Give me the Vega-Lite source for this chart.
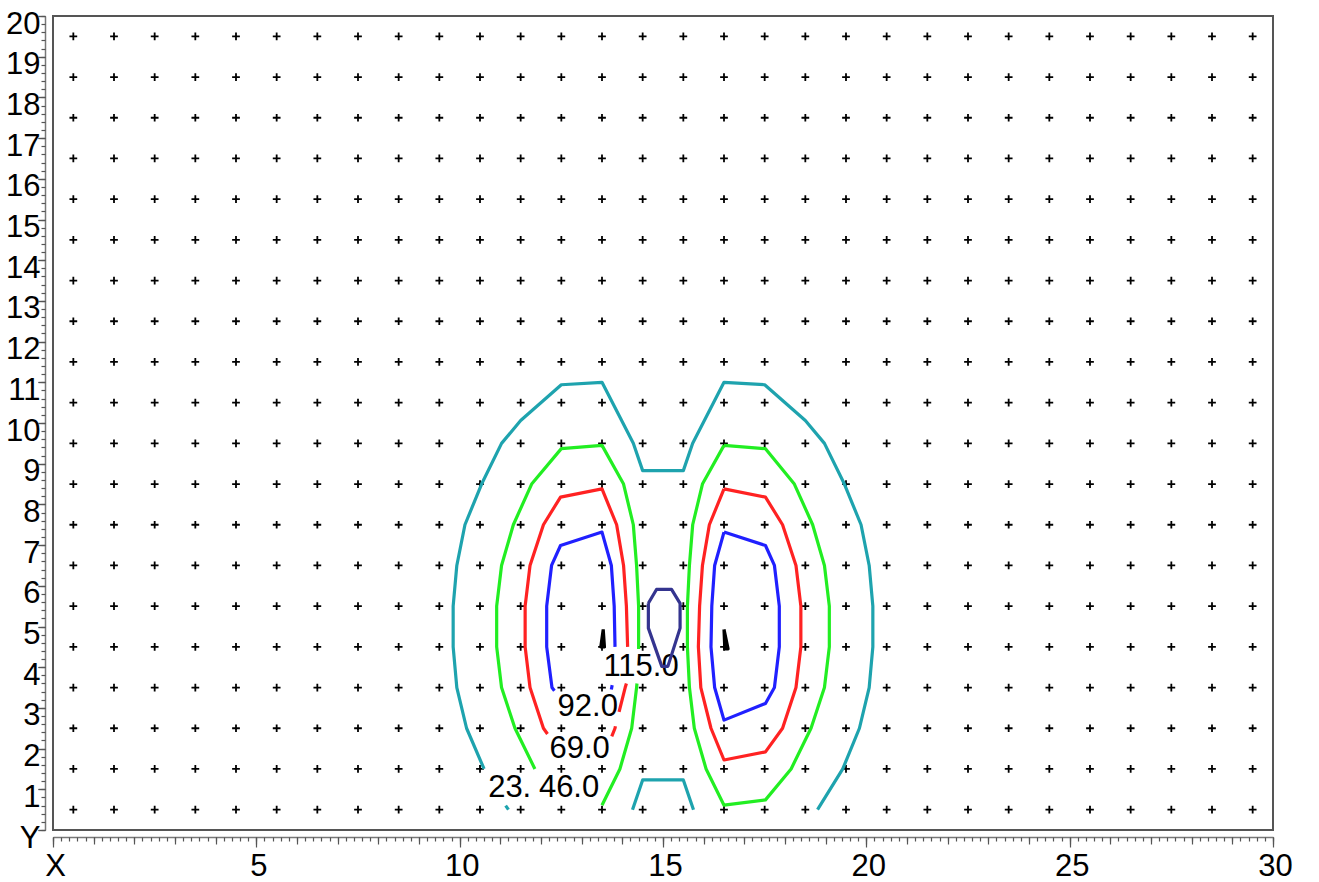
{
  "$schema": "https://vega.github.io/schema/vega-lite/v6.json",
  "width": 1220,
  "height": 814,
  "autosize": {"type": "none"},
  "padding": {"left": 53, "top": 16, "right": 46, "bottom": 52},
  "background": "white",
  "config": {
    "view": {"stroke": "#555", "strokeWidth": 2},
    "axis": {"grid": false, "title": null, "labelFont": "Liberation Sans", "labelFontSize": 31, "labelColor": "#000", "tickColor": "#555", "domainColor": "#777", "domainWidth": 1.5, "tickWidth": 1.2}
  },
  "resolve": {"axis": {"x": "independent", "y": "independent"}},
  "layer": [
    {
      "data": {
        "values": "x,y\n0.5,0.5\n1.5,0.5\n2.5,0.5\n3.5,0.5\n4.5,0.5\n5.5,0.5\n6.5,0.5\n7.5,0.5\n8.5,0.5\n9.5,0.5\n10.5,0.5\n11.5,0.5\n12.5,0.5\n13.5,0.5\n14.5,0.5\n15.5,0.5\n16.5,0.5\n17.5,0.5\n18.5,0.5\n19.5,0.5\n20.5,0.5\n21.5,0.5\n22.5,0.5\n23.5,0.5\n24.5,0.5\n25.5,0.5\n26.5,0.5\n27.5,0.5\n28.5,0.5\n29.5,0.5\n0.5,1.5\n1.5,1.5\n2.5,1.5\n3.5,1.5\n4.5,1.5\n5.5,1.5\n6.5,1.5\n7.5,1.5\n8.5,1.5\n9.5,1.5\n10.5,1.5\n11.5,1.5\n12.5,1.5\n13.5,1.5\n14.5,1.5\n15.5,1.5\n16.5,1.5\n17.5,1.5\n18.5,1.5\n19.5,1.5\n20.5,1.5\n21.5,1.5\n22.5,1.5\n23.5,1.5\n24.5,1.5\n25.5,1.5\n26.5,1.5\n27.5,1.5\n28.5,1.5\n29.5,1.5\n0.5,2.5\n1.5,2.5\n2.5,2.5\n3.5,2.5\n4.5,2.5\n5.5,2.5\n6.5,2.5\n7.5,2.5\n8.5,2.5\n9.5,2.5\n10.5,2.5\n11.5,2.5\n12.5,2.5\n13.5,2.5\n14.5,2.5\n15.5,2.5\n16.5,2.5\n17.5,2.5\n18.5,2.5\n19.5,2.5\n20.5,2.5\n21.5,2.5\n22.5,2.5\n23.5,2.5\n24.5,2.5\n25.5,2.5\n26.5,2.5\n27.5,2.5\n28.5,2.5\n29.5,2.5\n0.5,3.5\n1.5,3.5\n2.5,3.5\n3.5,3.5\n4.5,3.5\n5.5,3.5\n6.5,3.5\n7.5,3.5\n8.5,3.5\n9.5,3.5\n10.5,3.5\n11.5,3.5\n12.5,3.5\n13.5,3.5\n14.5,3.5\n15.5,3.5\n16.5,3.5\n17.5,3.5\n18.5,3.5\n19.5,3.5\n20.5,3.5\n21.5,3.5\n22.5,3.5\n23.5,3.5\n24.5,3.5\n25.5,3.5\n26.5,3.5\n27.5,3.5\n28.5,3.5\n29.5,3.5\n0.5,4.5\n1.5,4.5\n2.5,4.5\n3.5,4.5\n4.5,4.5\n5.5,4.5\n6.5,4.5\n7.5,4.5\n8.5,4.5\n9.5,4.5\n10.5,4.5\n11.5,4.5\n12.5,4.5\n13.5,4.5\n14.5,4.5\n15.5,4.5\n16.5,4.5\n17.5,4.5\n18.5,4.5\n19.5,4.5\n20.5,4.5\n21.5,4.5\n22.5,4.5\n23.5,4.5\n24.5,4.5\n25.5,4.5\n26.5,4.5\n27.5,4.5\n28.5,4.5\n29.5,4.5\n0.5,5.5\n1.5,5.5\n2.5,5.5\n3.5,5.5\n4.5,5.5\n5.5,5.5\n6.5,5.5\n7.5,5.5\n8.5,5.5\n9.5,5.5\n10.5,5.5\n11.5,5.5\n12.5,5.5\n13.5,5.5\n14.5,5.5\n15.5,5.5\n16.5,5.5\n17.5,5.5\n18.5,5.5\n19.5,5.5\n20.5,5.5\n21.5,5.5\n22.5,5.5\n23.5,5.5\n24.5,5.5\n25.5,5.5\n26.5,5.5\n27.5,5.5\n28.5,5.5\n29.5,5.5\n0.5,6.5\n1.5,6.5\n2.5,6.5\n3.5,6.5\n4.5,6.5\n5.5,6.5\n6.5,6.5\n7.5,6.5\n8.5,6.5\n9.5,6.5\n10.5,6.5\n11.5,6.5\n12.5,6.5\n13.5,6.5\n14.5,6.5\n15.5,6.5\n16.5,6.5\n17.5,6.5\n18.5,6.5\n19.5,6.5\n20.5,6.5\n21.5,6.5\n22.5,6.5\n23.5,6.5\n24.5,6.5\n25.5,6.5\n26.5,6.5\n27.5,6.5\n28.5,6.5\n29.5,6.5\n0.5,7.5\n1.5,7.5\n2.5,7.5\n3.5,7.5\n4.5,7.5\n5.5,7.5\n6.5,7.5\n7.5,7.5\n8.5,7.5\n9.5,7.5\n10.5,7.5\n11.5,7.5\n12.5,7.5\n13.5,7.5\n14.5,7.5\n15.5,7.5\n16.5,7.5\n17.5,7.5\n18.5,7.5\n19.5,7.5\n20.5,7.5\n21.5,7.5\n22.5,7.5\n23.5,7.5\n24.5,7.5\n25.5,7.5\n26.5,7.5\n27.5,7.5\n28.5,7.5\n29.5,7.5\n0.5,8.5\n1.5,8.5\n2.5,8.5\n3.5,8.5\n4.5,8.5\n5.5,8.5\n6.5,8.5\n7.5,8.5\n8.5,8.5\n9.5,8.5\n10.5,8.5\n11.5,8.5\n12.5,8.5\n13.5,8.5\n14.5,8.5\n15.5,8.5\n16.5,8.5\n17.5,8.5\n18.5,8.5\n19.5,8.5\n20.5,8.5\n21.5,8.5\n22.5,8.5\n23.5,8.5\n24.5,8.5\n25.5,8.5\n26.5,8.5\n27.5,8.5\n28.5,8.5\n29.5,8.5\n0.5,9.5\n1.5,9.5\n2.5,9.5\n3.5,9.5\n4.5,9.5\n5.5,9.5\n6.5,9.5\n7.5,9.5\n8.5,9.5\n9.5,9.5\n10.5,9.5\n11.5,9.5\n12.5,9.5\n13.5,9.5\n14.5,9.5\n15.5,9.5\n16.5,9.5\n17.5,9.5\n18.5,9.5\n19.5,9.5\n20.5,9.5\n21.5,9.5\n22.5,9.5\n23.5,9.5\n24.5,9.5\n25.5,9.5\n26.5,9.5\n27.5,9.5\n28.5,9.5\n29.5,9.5\n0.5,10.5\n1.5,10.5\n2.5,10.5\n3.5,10.5\n4.5,10.5\n5.5,10.5\n6.5,10.5\n7.5,10.5\n8.5,10.5\n9.5,10.5\n10.5,10.5\n11.5,10.5\n12.5,10.5\n13.5,10.5\n14.5,10.5\n15.5,10.5\n16.5,10.5\n17.5,10.5\n18.5,10.5\n19.5,10.5\n20.5,10.5\n21.5,10.5\n22.5,10.5\n23.5,10.5\n24.5,10.5\n25.5,10.5\n26.5,10.5\n27.5,10.5\n28.5,10.5\n29.5,10.5\n0.5,11.5\n1.5,11.5\n2.5,11.5\n3.5,11.5\n4.5,11.5\n5.5,11.5\n6.5,11.5\n7.5,11.5\n8.5,11.5\n9.5,11.5\n10.5,11.5\n11.5,11.5\n12.5,11.5\n13.5,11.5\n14.5,11.5\n15.5,11.5\n16.5,11.5\n17.5,11.5\n18.5,11.5\n19.5,11.5\n20.5,11.5\n21.5,11.5\n22.5,11.5\n23.5,11.5\n24.5,11.5\n25.5,11.5\n26.5,11.5\n27.5,11.5\n28.5,11.5\n29.5,11.5\n0.5,12.5\n1.5,12.5\n2.5,12.5\n3.5,12.5\n4.5,12.5\n5.5,12.5\n6.5,12.5\n7.5,12.5\n8.5,12.5\n9.5,12.5\n10.5,12.5\n11.5,12.5\n12.5,12.5\n13.5,12.5\n14.5,12.5\n15.5,12.5\n16.5,12.5\n17.5,12.5\n18.5,12.5\n19.5,12.5\n20.5,12.5\n21.5,12.5\n22.5,12.5\n23.5,12.5\n24.5,12.5\n25.5,12.5\n26.5,12.5\n27.5,12.5\n28.5,12.5\n29.5,12.5\n0.5,13.5\n1.5,13.5\n2.5,13.5\n3.5,13.5\n4.5,13.5\n5.5,13.5\n6.5,13.5\n7.5,13.5\n8.5,13.5\n9.5,13.5\n10.5,13.5\n11.5,13.5\n12.5,13.5\n13.5,13.5\n14.5,13.5\n15.5,13.5\n16.5,13.5\n17.5,13.5\n18.5,13.5\n19.5,13.5\n20.5,13.5\n21.5,13.5\n22.5,13.5\n23.5,13.5\n24.5,13.5\n25.5,13.5\n26.5,13.5\n27.5,13.5\n28.5,13.5\n29.5,13.5\n0.5,14.5\n1.5,14.5\n2.5,14.5\n3.5,14.5\n4.5,14.5\n5.5,14.5\n6.5,14.5\n7.5,14.5\n8.5,14.5\n9.5,14.5\n10.5,14.5\n11.5,14.5\n12.5,14.5\n13.5,14.5\n14.5,14.5\n15.5,14.5\n16.5,14.5\n17.5,14.5\n18.5,14.5\n19.5,14.5\n20.5,14.5\n21.5,14.5\n22.5,14.5\n23.5,14.5\n24.5,14.5\n25.5,14.5\n26.5,14.5\n27.5,14.5\n28.5,14.5\n29.5,14.5\n0.5,15.5\n1.5,15.5\n2.5,15.5\n3.5,15.5\n4.5,15.5\n5.5,15.5\n6.5,15.5\n7.5,15.5\n8.5,15.5\n9.5,15.5\n10.5,15.5\n11.5,15.5\n12.5,15.5\n13.5,15.5\n14.5,15.5\n15.5,15.5\n16.5,15.5\n17.5,15.5\n18.5,15.5\n19.5,15.5\n20.5,15.5\n21.5,15.5\n22.5,15.5\n23.5,15.5\n24.5,15.5\n25.5,15.5\n26.5,15.5\n27.5,15.5\n28.5,15.5\n29.5,15.5\n0.5,16.5\n1.5,16.5\n2.5,16.5\n3.5,16.5\n4.5,16.5\n5.5,16.5\n6.5,16.5\n7.5,16.5\n8.5,16.5\n9.5,16.5\n10.5,16.5\n11.5,16.5\n12.5,16.5\n13.5,16.5\n14.5,16.5\n15.5,16.5\n16.5,16.5\n17.5,16.5\n18.5,16.5\n19.5,16.5\n20.5,16.5\n21.5,16.5\n22.5,16.5\n23.5,16.5\n24.5,16.5\n25.5,16.5\n26.5,16.5\n27.5,16.5\n28.5,16.5\n29.5,16.5\n0.5,17.5\n1.5,17.5\n2.5,17.5\n3.5,17.5\n4.5,17.5\n5.5,17.5\n6.5,17.5\n7.5,17.5\n8.5,17.5\n9.5,17.5\n10.5,17.5\n11.5,17.5\n12.5,17.5\n13.5,17.5\n14.5,17.5\n15.5,17.5\n16.5,17.5\n17.5,17.5\n18.5,17.5\n19.5,17.5\n20.5,17.5\n21.5,17.5\n22.5,17.5\n23.5,17.5\n24.5,17.5\n25.5,17.5\n26.5,17.5\n27.5,17.5\n28.5,17.5\n29.5,17.5\n0.5,18.5\n1.5,18.5\n2.5,18.5\n3.5,18.5\n4.5,18.5\n5.5,18.5\n6.5,18.5\n7.5,18.5\n8.5,18.5\n9.5,18.5\n10.5,18.5\n11.5,18.5\n12.5,18.5\n13.5,18.5\n14.5,18.5\n15.5,18.5\n16.5,18.5\n17.5,18.5\n18.5,18.5\n19.5,18.5\n20.5,18.5\n21.5,18.5\n22.5,18.5\n23.5,18.5\n24.5,18.5\n25.5,18.5\n26.5,18.5\n27.5,18.5\n28.5,18.5\n29.5,18.5\n0.5,19.5\n1.5,19.5\n2.5,19.5\n3.5,19.5\n4.5,19.5\n5.5,19.5\n6.5,19.5\n7.5,19.5\n8.5,19.5\n9.5,19.5\n10.5,19.5\n11.5,19.5\n12.5,19.5\n13.5,19.5\n14.5,19.5\n15.5,19.5\n16.5,19.5\n17.5,19.5\n18.5,19.5\n19.5,19.5\n20.5,19.5\n21.5,19.5\n22.5,19.5\n23.5,19.5\n24.5,19.5\n25.5,19.5\n26.5,19.5\n27.5,19.5\n28.5,19.5\n29.5,19.5",
        "format": {"type": "csv", "parse": {"x": "number", "y": "number"}}
      },
      "mark": {"type": "point", "shape": "M-1,0H1M0,-1V1", "size": 60, "stroke": "#000", "strokeWidth": 1.8, "filled": false, "opacity": 1},
      "encoding": {
        "x": {"field": "x", "type": "quantitative", "scale": {"domain": [0, 30], "nice": false, "zero": false},
          "axis": {"orient": "bottom", "offset": 7, "values": [0, 5, 10, 15, 20, 25, 30], "tickSize": 10, "labelPadding": 4, "labelExpr": "datum.value == 0 ? 'X' : datum.label", "labelFlush": false, "labelOverlap": false, "labelOffset": 2}},
        "y": {"field": "y", "type": "quantitative", "scale": {"domain": [0, 20], "nice": false, "zero": false},
          "axis": {"orient": "left", "offset": 8, "values": [0, 1, 2, 3, 4, 5, 6, 7, 8, 9, 10, 11, 12, 13, 14, 15, 16, 17, 18, 19, 20], "tickSize": 7, "labelPadding": -2, "labelExpr": "datum.value == 0 ? 'Y' : datum.label", "labelBaseline": "middle", "labelOffset": 8, "labelFlush": false, "labelOverlap": false}}
      }
    },
    {
      "data": {"values": [
        {"t": "115.0", "x": 14.46, "y": 4.0},
        {"t": "92.0", "x": 13.15, "y": 3.01},
        {"t": "69.0", "x": 12.95, "y": 1.99},
        {"t": "46.0", "x": 12.69, "y": 1.04},
        {"t": "23.", "x": 11.23, "y": 1.04}
      ]},
      "mark": {"type": "text", "font": "Liberation Sans", "fontSize": 31, "color": "#000", "align": "center", "baseline": "middle"},
      "encoding": {
        "x": {"field": "x", "type": "quantitative", "scale": {"domain": [0, 30], "nice": false, "zero": false},
          "axis": {"orient": "bottom", "offset": 7, "tickCount": 150, "tickSize": 4, "labels": false, "domain": false}},
        "y": {"field": "y", "type": "quantitative", "scale": {"domain": [0, 20], "nice": false, "zero": false},
          "axis": {"orient": "left", "offset": 8, "tickCount": 100, "tickSize": 4, "labels": false, "domain": false}},
        "text": {"field": "t", "type": "nominal"}
      }
    },
    {
      "data": {
        "values": "seg,lvl,i,x,y\nc23a,L23,0,10.6,1.5\nc23a,L23,1,10.17,2.5\nc23a,L23,2,9.93,3.5\nc23a,L23,3,9.84,4.5\nc23a,L23,4,9.84,5.5\nc23a,L23,5,9.93,6.5\nc23a,L23,6,10.13,7.5\nc23a,L23,7,10.54,8.5\nc23a,L23,8,11.03,9.5\nc23a,L23,9,11.5,10.06\nc23a,L23,10,12.5,10.94\nc23a,L23,11,13.5,11.0\nc23a,L23,12,14.27,9.5\nc23a,L23,13,14.5,8.83\nc23a,L23,14,15.5,8.83\nc23a,L23,15,15.73,9.5\nc23a,L23,16,16.5,11.0\nc23a,L23,17,17.5,10.94\nc23a,L23,18,18.5,10.06\nc23a,L23,19,18.97,9.5\nc23a,L23,20,19.46,8.5\nc23a,L23,21,19.87,7.5\nc23a,L23,22,20.07,6.5\nc23a,L23,23,20.16,5.5\nc23a,L23,24,20.16,4.5\nc23a,L23,25,20.07,3.5\nc23a,L23,26,19.83,2.5\nc23a,L23,27,19.42,1.5\nc23a,L23,28,18.8,0.5\nc23b,L23,0,11.13,0.6\nc23b,L23,1,11.2,0.5\nc23c,L23,0,14.25,0.5\nc23c,L23,1,14.5,1.23\nc23c,L23,2,15.5,1.23\nc23c,L23,3,15.75,0.5\ng46a,L46,0,11.85,1.5\ng46a,L46,1,11.36,2.5\ng46a,L46,2,11.03,3.5\ng46a,L46,3,10.91,4.5\ng46a,L46,4,10.91,5.5\ng46a,L46,5,11.03,6.5\ng46a,L46,6,11.32,7.5\ng46a,L46,7,11.77,8.5\ng46a,L46,8,12.5,9.37\ng46a,L46,9,13.5,9.45\ng46a,L46,10,14.03,8.5\ng46a,L46,11,14.27,7.5\ng46a,L46,12,14.35,6.5\ng46a,L46,13,14.4,5.5\ng46a,L46,14,14.4,4.45\ng46b,L46,0,14.36,3.6\ng46b,L46,1,14.35,3.5\ng46b,L46,2,14.23,2.5\ng46b,L46,3,13.94,1.5\ng46b,L46,4,13.5,0.61\ng46c,L46,0,16.5,9.45\ng46c,L46,1,17.52,9.37\ng46c,L46,2,18.23,8.5\ng46c,L46,3,18.68,7.5\ng46c,L46,4,18.97,6.5\ng46c,L46,5,19.09,5.5\ng46c,L46,6,19.09,4.5\ng46c,L46,7,18.97,3.5\ng46c,L46,8,18.64,2.5\ng46c,L46,9,18.15,1.5\ng46c,L46,10,17.52,0.74\ng46c,L46,11,16.5,0.61\ng46c,L46,12,16.06,1.5\ng46c,L46,13,15.77,2.5\ng46c,L46,14,15.65,3.5\ng46c,L46,15,15.6,4.5\ng46c,L46,16,15.6,5.5\ng46c,L46,17,15.65,6.5\ng46c,L46,18,15.73,7.5\ng46c,L46,19,15.97,8.5\ng46c,L46,20,16.5,9.45\nr69a,L69,0,12.16,2.36\nr69a,L69,1,12.06,2.5\nr69a,L69,2,11.73,3.5\nr69a,L69,3,11.61,4.5\nr69a,L69,4,11.61,5.5\nr69a,L69,5,11.73,6.5\nr69a,L69,6,12.06,7.5\nr69a,L69,7,12.48,8.18\nr69a,L69,8,13.5,8.38\nr69a,L69,9,13.86,7.5\nr69a,L69,10,14.03,6.5\nr69a,L69,11,14.1,5.5\nr69a,L69,12,14.13,4.5\nr69b,L69,0,14.1,3.6\nr69b,L69,1,14.07,3.5\nr69b,L69,2,13.92,2.9\nr69c,L69,0,13.83,2.55\nr69c,L69,1,13.82,2.5\nr69c,L69,2,13.74,2.3\nr69d,L69,0,16.5,8.38\nr69d,L69,1,17.52,8.18\nr69d,L69,2,17.94,7.5\nr69d,L69,3,18.27,6.5\nr69d,L69,4,18.39,5.5\nr69d,L69,5,18.39,4.5\nr69d,L69,6,18.27,3.5\nr69d,L69,7,17.94,2.5\nr69d,L69,8,17.52,1.92\nr69d,L69,9,16.5,1.72\nr69d,L69,10,16.18,2.5\nr69d,L69,11,15.93,3.5\nr69d,L69,12,15.87,4.5\nr69d,L69,13,15.9,5.5\nr69d,L69,14,15.97,6.5\nr69d,L69,15,16.14,7.5\nr69d,L69,16,16.5,8.38\nb92a,L92,0,12.33,3.42\nb92a,L92,1,12.27,3.5\nb92a,L92,2,12.14,4.5\nb92a,L92,3,12.14,5.5\nb92a,L92,4,12.26,6.5\nb92a,L92,5,12.48,6.99\nb92a,L92,6,13.5,7.32\nb92a,L92,7,13.73,6.5\nb92a,L92,8,13.8,5.5\nb92a,L92,9,13.82,4.5\nb92b,L92,0,13.75,3.56\nb92b,L92,1,13.73,3.45\nb92c,L92,0,16.5,7.32\nb92c,L92,1,17.52,6.99\nb92c,L92,2,17.74,6.5\nb92c,L92,3,17.86,5.5\nb92c,L92,4,17.86,4.5\nb92c,L92,5,17.74,3.5\nb92c,L92,6,17.52,3.11\nb92c,L92,7,16.5,2.7\nb92c,L92,8,16.27,3.5\nb92c,L92,9,16.18,4.5\nb92c,L92,10,16.2,5.5\nb92c,L92,11,16.27,6.5\nb92c,L92,12,16.5,7.32\nn115,L115,0,14.64,5.57\nn115,L115,1,14.84,5.91\nn115,L115,2,15.21,5.91\nn115,L115,3,15.42,5.57\nn115,L115,4,15.42,4.96\nn115,L115,5,15.12,4.02\nn115,L115,6,14.97,4.02\nn115,L115,7,14.64,4.96\nn115,L115,8,14.64,5.57\nk138a,L138,0,13.53,4.93\nk138a,L138,1,13.56,4.5\nk138a,L138,2,13.47,4.5\nk138a,L138,3,13.53,4.93\nk138b,L138,0,16.5,4.93\nk138b,L138,1,16.6,4.45\nk138b,L138,2,16.52,4.45\nk138b,L138,3,16.5,4.93",
        "format": {"type": "csv", "parse": {"x": "number", "y": "number", "i": "number"}}
      },
      "mark": {"type": "line", "strokeJoin": "round", "strokeCap": "butt"},
      "encoding": {
        "x": {"field": "x", "type": "quantitative", "scale": {"domain": [0, 30], "nice": false, "zero": false},
          "axis": {"orient": "bottom", "offset": 7, "tickCount": 30, "tickSize": 7, "labels": false, "domain": false}},
        "y": {"field": "y", "type": "quantitative", "scale": {"domain": [0, 20], "nice": false, "zero": false},
          "axis": {"orient": "left", "offset": 8, "tickCount": 20, "tickSize": 7, "labels": false, "domain": false}},
        "detail": {"field": "seg", "type": "nominal"},
        "order": {"field": "i", "type": "quantitative"},
        "color": {"field": "lvl", "type": "nominal", "legend": null,
          "scale": {"domain": ["L23", "L46", "L69", "L92", "L115", "L138"], "range": ["#1ea3ae", "#22ee22", "#ff2222", "#2020ff", "#34348f", "#000000"]}},
        "size": {"field": "lvl", "type": "nominal", "legend": null,
          "scale": {"domain": ["L23", "L46", "L69", "L92", "L115", "L138"], "range": [3.2, 3.2, 3.2, 3.2, 1, 3]}}
      }
    }
  ]
}
